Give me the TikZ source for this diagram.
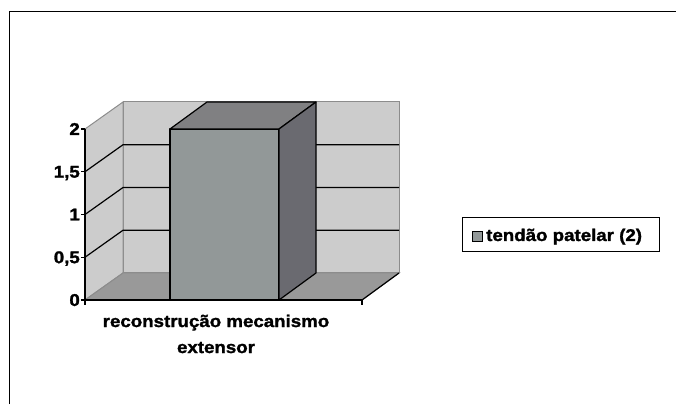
\documentclass[tikz,border=0pt]{standalone}
\usepackage{fontspec}
\setmainfont{Liberation Sans}[FakeStretch=1.1,BoldFeatures={FakeBold=1.6}]
\usepackage{tikz}
\definecolor{wallgray}{RGB}{204,204,204}
\definecolor{floorgray}{RGB}{153,153,153}
\definecolor{edgegray}{RGB}{140,140,140}
\definecolor{barfront}{RGB}{146,152,152}
\definecolor{bartop}{RGB}{128,128,130}
\definecolor{barside}{RGB}{106,106,112}

\begin{document}
\begin{tikzpicture}[x=1pt,y=1pt,font=\fontsize{17}{18}\selectfont\bfseries,
	wall/.style={fill=wallgray,draw=edgegray,line width=1pt},
	grid/.style={line width=1.2pt},
	bar/.style={draw=black,line width=1.2pt,line join=round},
	ticklabel/.style={anchor=east,inner sep=0pt,text depth=0pt}]
	\useasboundingbox (0,0) rectangle (676,404);
	\draw[line width=1pt] (9.5,0) -- (9.5,392) -- (676,392);
	% walls and floor
	\filldraw[wall] (123,131) rectangle (399,302);
	\filldraw[wall] (85,104) -- (123,131) -- (123,302) -- (85,275) -- cycle;
	\filldraw[wall,fill=floorgray] (85,104) -- (123,131) -- (399,131) -- (362,104) -- cycle;
	\draw[grid] (362,104) -- (399,131);
	% gridlines
	\draw[grid] (85,146.75) -- (123,173.75) -- (399,173.75);
	\draw[grid] (85,189.5) -- (123,216.5) -- (399,216.5);
	\draw[grid] (85,232.25) -- (123,259.25) -- (399,259.25);
	% axes and ticks
	\draw[grid] (85,275) -- (85,104) -- (362,104);
	\draw[grid] (81,104) -- (85,104) -- (85,99);
	\draw[grid] (81,146.75) -- (85,146.75);
	\draw[grid] (81,189.5) -- (85,189.5);
	\draw[grid] (81,232.25) -- (85,232.25);
	\draw[grid] (81,275) -- (85,275);
	\draw[grid] (362,104) -- (362,99);
	% bar
	\filldraw[bar,fill=barfront] (170,104) rectangle (279,275);
	\filldraw[bar,fill=bartop] (170,275) -- (207,302) -- (316,302) -- (279,275) -- cycle;
	\filldraw[bar,fill=barside] (279,104) -- (316,131) -- (316,302) -- (279,275) -- cycle;
	% labels
	\node[ticklabel] (lab0) at (80,104) {0};
	\node[ticklabel] (lab05) at (80,146.75) {0,5};
	\node[ticklabel] (lab1) at (80,189.5) {1};
	\node[ticklabel] (lab15) at (80,232.25) {1,5};
	\node[ticklabel] (lab2) at (80,275) {2};
	\node[anchor=north,align=center,inner sep=0pt,font=\fontsize{17}{26}\selectfont\bfseries] (catlabel) at (216,89.5) {reconstrução mecanismo\\extensor};
	% legend
	\node[draw,line width=1pt,minimum width=197pt,minimum height=34pt,inner sep=0pt] (legend) at (560.5,169) {};
	\node[draw,fill=barfront,line width=0.8pt,minimum size=10pt,inner sep=0pt] (swatch) at (477.7,168) {};
	\node[anchor=base west,inner sep=0pt] (legtext) at (486,163) {tendão patelar (2)};
\end{tikzpicture}
\end{document}
